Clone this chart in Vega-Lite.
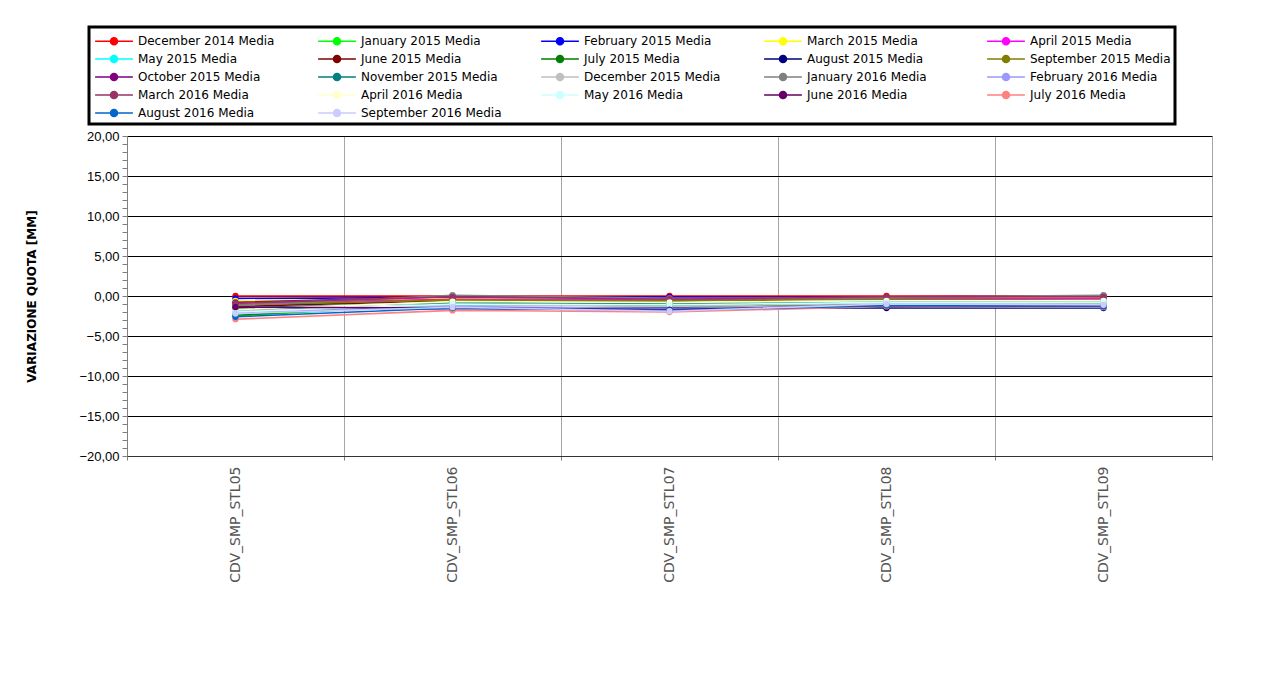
{
  "$schema": "https://vega.github.io/schema/vega-lite/v6.json",
  "autosize": "none",
  "width": 1085,
  "height": 320,
  "padding": {"left": 127, "top": 136, "right": 50, "bottom": 228},
  "background": "white",
  "config": {"view": {"stroke": null}, "legend": {"strokeWidth": 3, "strokeColor": "#000000"}},
  "datasets": {
    "rows": [
      {"station":"CDV_SMP_STL05","series":"December 2014 Media","value":0},
      {"station":"CDV_SMP_STL06","series":"December 2014 Media","value":0},
      {"station":"CDV_SMP_STL07","series":"December 2014 Media","value":0},
      {"station":"CDV_SMP_STL08","series":"December 2014 Media","value":0},
      {"station":"CDV_SMP_STL09","series":"December 2014 Media","value":0},
      {"station":"CDV_SMP_STL05","series":"January 2015 Media","value":-2.5},
      {"station":"CDV_SMP_STL06","series":"January 2015 Media","value":-1.0},
      {"station":"CDV_SMP_STL07","series":"January 2015 Media","value":-1.2},
      {"station":"CDV_SMP_STL08","series":"January 2015 Media","value":-0.8},
      {"station":"CDV_SMP_STL09","series":"January 2015 Media","value":-0.9},
      {"station":"CDV_SMP_STL05","series":"February 2015 Media","value":-0.3},
      {"station":"CDV_SMP_STL06","series":"February 2015 Media","value":-0.2},
      {"station":"CDV_SMP_STL07","series":"February 2015 Media","value":-0.1},
      {"station":"CDV_SMP_STL08","series":"February 2015 Media","value":-0.2},
      {"station":"CDV_SMP_STL09","series":"February 2015 Media","value":-0.1},
      {"station":"CDV_SMP_STL05","series":"March 2015 Media","value":-0.6},
      {"station":"CDV_SMP_STL06","series":"March 2015 Media","value":-0.3},
      {"station":"CDV_SMP_STL07","series":"March 2015 Media","value":-0.3},
      {"station":"CDV_SMP_STL08","series":"March 2015 Media","value":-0.2},
      {"station":"CDV_SMP_STL09","series":"March 2015 Media","value":-0.2},
      {"station":"CDV_SMP_STL05","series":"April 2015 Media","value":-0.9},
      {"station":"CDV_SMP_STL06","series":"April 2015 Media","value":-0.4},
      {"station":"CDV_SMP_STL07","series":"April 2015 Media","value":-0.5},
      {"station":"CDV_SMP_STL08","series":"April 2015 Media","value":-0.3},
      {"station":"CDV_SMP_STL09","series":"April 2015 Media","value":-0.3},
      {"station":"CDV_SMP_STL05","series":"May 2015 Media","value":-1.8},
      {"station":"CDV_SMP_STL06","series":"May 2015 Media","value":-1.2},
      {"station":"CDV_SMP_STL07","series":"May 2015 Media","value":-0.9},
      {"station":"CDV_SMP_STL08","series":"May 2015 Media","value":-0.6},
      {"station":"CDV_SMP_STL09","series":"May 2015 Media","value":-0.7},
      {"station":"CDV_SMP_STL05","series":"June 2015 Media","value":-1.3},
      {"station":"CDV_SMP_STL06","series":"June 2015 Media","value":-0.6},
      {"station":"CDV_SMP_STL07","series":"June 2015 Media","value":-0.7},
      {"station":"CDV_SMP_STL08","series":"June 2015 Media","value":-1.4},
      {"station":"CDV_SMP_STL09","series":"June 2015 Media","value":-0.8},
      {"station":"CDV_SMP_STL05","series":"July 2015 Media","value":-2.4},
      {"station":"CDV_SMP_STL06","series":"July 2015 Media","value":-0.9},
      {"station":"CDV_SMP_STL07","series":"July 2015 Media","value":-1.3},
      {"station":"CDV_SMP_STL08","series":"July 2015 Media","value":-1.0},
      {"station":"CDV_SMP_STL09","series":"July 2015 Media","value":-1.1},
      {"station":"CDV_SMP_STL05","series":"August 2015 Media","value":-1.6},
      {"station":"CDV_SMP_STL06","series":"August 2015 Media","value":-1.6},
      {"station":"CDV_SMP_STL07","series":"August 2015 Media","value":-1.5},
      {"station":"CDV_SMP_STL08","series":"August 2015 Media","value":-1.5},
      {"station":"CDV_SMP_STL09","series":"August 2015 Media","value":-1.5},
      {"station":"CDV_SMP_STL05","series":"September 2015 Media","value":-1.1},
      {"station":"CDV_SMP_STL06","series":"September 2015 Media","value":-0.5},
      {"station":"CDV_SMP_STL07","series":"September 2015 Media","value":-0.6},
      {"station":"CDV_SMP_STL08","series":"September 2015 Media","value":-0.4},
      {"station":"CDV_SMP_STL09","series":"September 2015 Media","value":-0.5},
      {"station":"CDV_SMP_STL05","series":"October 2015 Media","value":-0.8},
      {"station":"CDV_SMP_STL06","series":"October 2015 Media","value":-0.1},
      {"station":"CDV_SMP_STL07","series":"October 2015 Media","value":-0.2},
      {"station":"CDV_SMP_STL08","series":"October 2015 Media","value":-0.1},
      {"station":"CDV_SMP_STL09","series":"October 2015 Media","value":0.0},
      {"station":"CDV_SMP_STL05","series":"November 2015 Media","value":-1.5},
      {"station":"CDV_SMP_STL06","series":"November 2015 Media","value":-0.8},
      {"station":"CDV_SMP_STL07","series":"November 2015 Media","value":-1.0},
      {"station":"CDV_SMP_STL08","series":"November 2015 Media","value":-0.7},
      {"station":"CDV_SMP_STL09","series":"November 2015 Media","value":-0.8},
      {"station":"CDV_SMP_STL05","series":"December 2015 Media","value":-1.9},
      {"station":"CDV_SMP_STL06","series":"December 2015 Media","value":-1.1},
      {"station":"CDV_SMP_STL07","series":"December 2015 Media","value":-1.3},
      {"station":"CDV_SMP_STL08","series":"December 2015 Media","value":-0.9},
      {"station":"CDV_SMP_STL09","series":"December 2015 Media","value":-1.0},
      {"station":"CDV_SMP_STL05","series":"January 2016 Media","value":-1.2},
      {"station":"CDV_SMP_STL06","series":"January 2016 Media","value":0.1},
      {"station":"CDV_SMP_STL07","series":"January 2016 Media","value":-0.3},
      {"station":"CDV_SMP_STL08","series":"January 2016 Media","value":-0.2},
      {"station":"CDV_SMP_STL09","series":"January 2016 Media","value":0.1},
      {"station":"CDV_SMP_STL05","series":"February 2016 Media","value":-2.1},
      {"station":"CDV_SMP_STL06","series":"February 2016 Media","value":-1.3},
      {"station":"CDV_SMP_STL07","series":"February 2016 Media","value":-1.6},
      {"station":"CDV_SMP_STL08","series":"February 2016 Media","value":-1.1},
      {"station":"CDV_SMP_STL09","series":"February 2016 Media","value":-1.2},
      {"station":"CDV_SMP_STL05","series":"March 2016 Media","value":-0.9},
      {"station":"CDV_SMP_STL06","series":"March 2016 Media","value":-0.1},
      {"station":"CDV_SMP_STL07","series":"March 2016 Media","value":-0.4},
      {"station":"CDV_SMP_STL08","series":"March 2016 Media","value":-0.1},
      {"station":"CDV_SMP_STL09","series":"March 2016 Media","value":-0.1},
      {"station":"CDV_SMP_STL05","series":"April 2016 Media","value":-1.7},
      {"station":"CDV_SMP_STL06","series":"April 2016 Media","value":-0.7},
      {"station":"CDV_SMP_STL07","series":"April 2016 Media","value":-0.8},
      {"station":"CDV_SMP_STL08","series":"April 2016 Media","value":-0.6},
      {"station":"CDV_SMP_STL09","series":"April 2016 Media","value":-0.6},
      {"station":"CDV_SMP_STL05","series":"May 2016 Media","value":-2.0},
      {"station":"CDV_SMP_STL06","series":"May 2016 Media","value":-1.0},
      {"station":"CDV_SMP_STL07","series":"May 2016 Media","value":-1.1},
      {"station":"CDV_SMP_STL08","series":"May 2016 Media","value":-0.8},
      {"station":"CDV_SMP_STL09","series":"May 2016 Media","value":-0.8},
      {"station":"CDV_SMP_STL05","series":"June 2016 Media","value":-1.4},
      {"station":"CDV_SMP_STL06","series":"June 2016 Media","value":-1.5},
      {"station":"CDV_SMP_STL07","series":"June 2016 Media","value":-1.7},
      {"station":"CDV_SMP_STL08","series":"June 2016 Media","value":-1.2},
      {"station":"CDV_SMP_STL09","series":"June 2016 Media","value":-1.3},
      {"station":"CDV_SMP_STL05","series":"July 2016 Media","value":-2.9},
      {"station":"CDV_SMP_STL06","series":"July 2016 Media","value":-1.8},
      {"station":"CDV_SMP_STL07","series":"July 2016 Media","value":-2.0},
      {"station":"CDV_SMP_STL08","series":"July 2016 Media","value":-1.3},
      {"station":"CDV_SMP_STL09","series":"July 2016 Media","value":-1.4},
      {"station":"CDV_SMP_STL05","series":"August 2016 Media","value":-2.6},
      {"station":"CDV_SMP_STL06","series":"August 2016 Media","value":-1.5},
      {"station":"CDV_SMP_STL07","series":"August 2016 Media","value":-1.8},
      {"station":"CDV_SMP_STL08","series":"August 2016 Media","value":-1.2},
      {"station":"CDV_SMP_STL09","series":"August 2016 Media","value":-1.3},
      {"station":"CDV_SMP_STL05","series":"September 2016 Media","value":-2.2},
      {"station":"CDV_SMP_STL06","series":"September 2016 Media","value":-1.4},
      {"station":"CDV_SMP_STL07","series":"September 2016 Media","value":-1.9},
      {"station":"CDV_SMP_STL08","series":"September 2016 Media","value":-1.0},
      {"station":"CDV_SMP_STL09","series":"September 2016 Media","value":-1.1}
    ]
  },
  "data": {"name": "rows"},
  "mark": {"type": "line", "strokeWidth": 1.6, "point": {"filled": true, "size": 40}},
  "encoding": {
    "x": {
      "field": "station", "type": "nominal", "title": null,
      "scale": {"paddingInner": 0, "paddingOuter": 0},
      "axis": {
        "tickBand": "extent", "grid": true, "gridColor": "#a6a6a6", "gridWidth": 1,
        "domainColor": "#333333", "tickColor": "#808080", "tickSize": 4,
        "labelAngle": -90, "labelPadding": 6, "labelFont": "DejaVu Sans", "labelFontSize": 14,
        "labelColor": "#555555"
      }
    },
    "y": {
      "field": "value", "type": "quantitative",
      "title": "VARIAZIONE QUOTA  [MM]",
      "scale": {"domain": [-20, 20], "nice": false, "zero": false},
      "axis": {
        "values": [-20,-19,-18,-17,-16,-15,-14,-13,-12,-11,-10,-9,-8,-7,-6,-5,-4,-3,-2,-1,0,1,2,3,4,5,6,7,8,9,10,11,12,13,14,15,16,17,18,19,20],
        "labelExpr": "datum.value % 5 === 0 ? replace(format(datum.value, '.2f'), '.', ',') : ''",
        "grid": true, "gridColor": "#000000", "gridWidth": 1,
        "gridOpacity": {"condition": {"test": "datum.value % 5 === 0", "value": 1}, "value": 0},
        "tickSize": 5,
        "tickColor": "#808080", "domainColor": "#808080",
        "labelFont": "Liberation Sans", "labelFontSize": 13, "labelColor": "#000000", "labelPadding": 3,
        "titleFont": "DejaVu Sans", "titleFontSize": 12, "titleFontWeight": "bold", "titleColor": "#000000",
        "titlePadding": 40
      }
    },
    "color": {
      "field": "series", "type": "nominal",
      "scale": {
        "domain": ["December 2014 Media","January 2015 Media","February 2015 Media","March 2015 Media","April 2015 Media","May 2015 Media","June 2015 Media","July 2015 Media","August 2015 Media","September 2015 Media","October 2015 Media","November 2015 Media","December 2015 Media","January 2016 Media","February 2016 Media","March 2016 Media","April 2016 Media","May 2016 Media","June 2016 Media","July 2016 Media","August 2016 Media","September 2016 Media"],
        "range": ["#FF0000","#00FF00","#0000FF","#FFFF00","#FF00FF","#00FFFF","#800000","#008000","#000080","#808000","#800080","#008080","#C0C0C0","#808080","#9999FF","#993366","#FFFFCC","#CCFFFF","#660066","#FF8080","#0066CC","#CCCCFF"]
      },
      "legend": {
        "title": null, "orient": "none", "legendX": -38, "legendY": -109,
        "direction": "horizontal", "columns": 5, "gridAlign": "all",
        "symbolType": "M-2.1,0L2.1,0M-0.39,0A0.39,0.39,0,1,1,0.39,0A0.39,0.39,0,1,1,-0.39,0Z",
        "symbolSize": 324, "symbolStrokeWidth": 1.5, "symbolOpacity": 1, "symbolOffset": 11,
        "labelFont": "DejaVu Sans", "labelFontSize": 12, "labelColor": "#000000", "labelOffset": 14,
        "columnPadding": 36, "rowPadding": 1, "padding": 4,
        "fillColor": "#ffffff", "cornerRadius": 0,
        "labelLimit": 300
      }
    }
  }
}
